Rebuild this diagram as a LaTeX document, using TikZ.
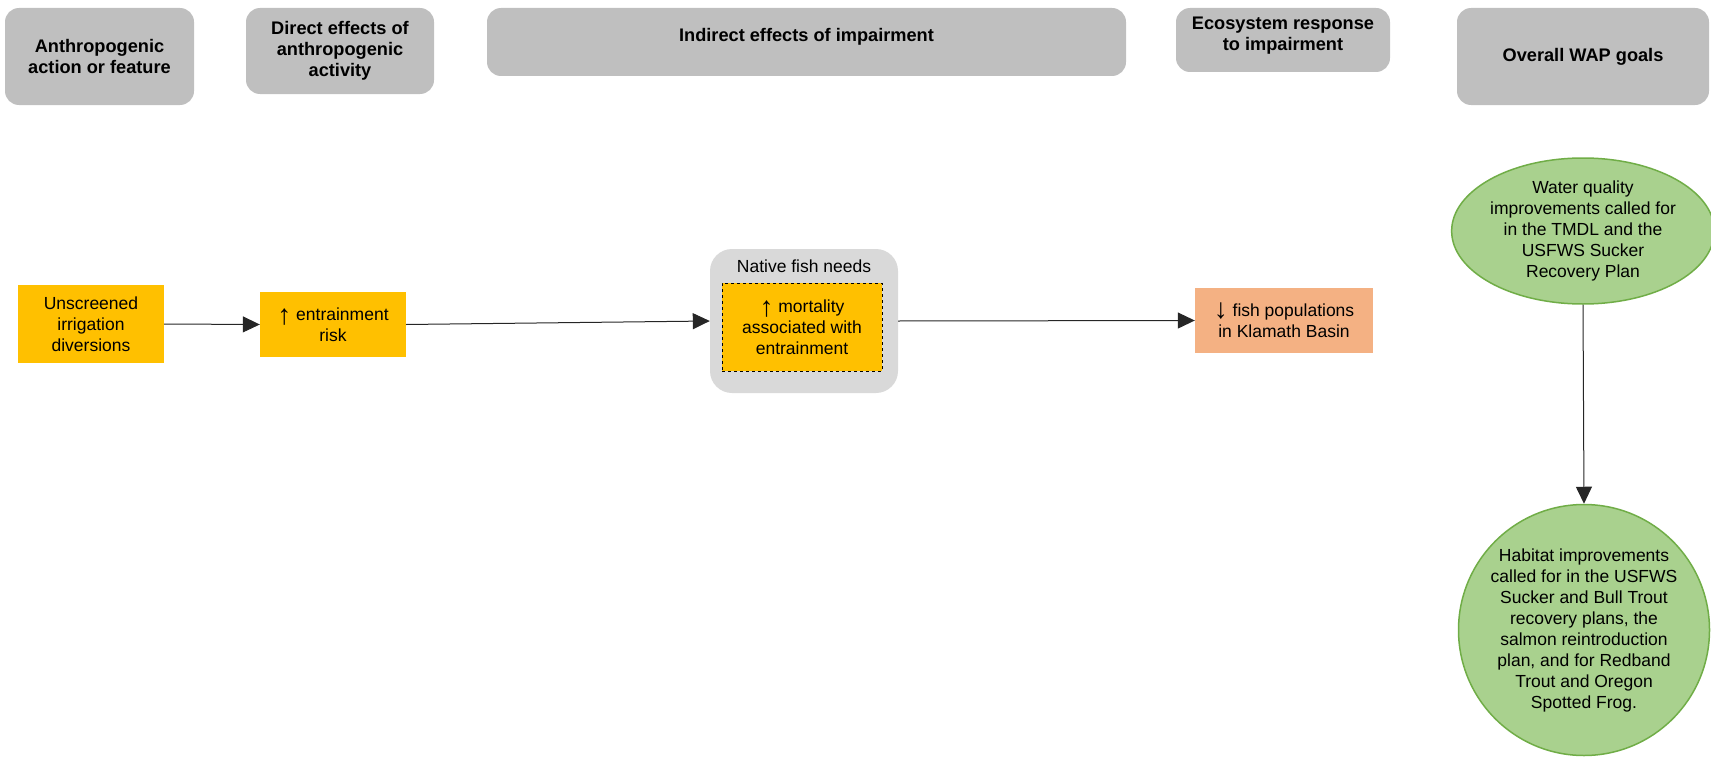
\documentclass[tikz,border=0pt]{standalone}
\usepackage{fontspec}
\setmainfont{Liberation Sans}
\usetikzlibrary{arrows.meta,shapes.geometric}
\definecolor{hdrgray}{HTML}{BFBFBF}
\definecolor{groupgray}{HTML}{D9D9D9}
\definecolor{amber}{HTML}{FFC000}
\definecolor{salmon}{HTML}{F4B183}
\definecolor{goalfill}{HTML}{A9D18E}
\definecolor{goalline}{HTML}{70AD47}
% tall thin trend arrows used in front of effect labels
\newcommand{\trendup}{\raisebox{-4pt}{\fontsize{28}{21}\selectfont ↑}}
\newcommand{\trenddown}{\raisebox{-2pt}{\fontsize{28}{21}\selectfont ↓}}
\tikzset{
  txt/.style={font=\fontsize{17.5}{21}\selectfont, align=center, inner sep=0pt},
  hdrfont/.style={font=\fontsize{18.2}{21}\selectfont\bfseries},
  header/.style={txt, hdrfont, fill=hdrgray, rounded corners=14pt},
  effect/.style={txt, fill=amber},
  response/.style={txt, fill=salmon},
  group/.style={txt, fill=groupgray, rounded corners=22pt},
  goal/.style={txt, fill=goalfill, draw=goalline, line width=1.5pt},
  link/.style={draw=black!85, line width=1pt, -{Triangle[length=17pt,width=16pt]}}
}
\begin{document}
\begin{tikzpicture}[x=1pt,y=-1pt]
\useasboundingbox (0,0) rectangle (1711,760);

% column headers
\node[header, minimum width=189pt, minimum height=97pt] (h1) at (99.5,56.5) {Anthropogenic\\action or feature};
\node[header, minimum width=188pt, minimum height=86pt] (h2) at (340,51) {Direct effects of\\anthropogenic\\activity};
\node[header, minimum width=639pt, minimum height=68pt] (h3) at (806.5,42) {};
\node[txt, hdrfont] (h3t) at (806.5,37) {Indirect effects of impairment};
\node[header, minimum width=214pt, minimum height=64pt] (h4) at (1283,40) {};
\node[txt, hdrfont] (h4t) at (1283,36) {Ecosystem response\\to impairment};
\node[header, minimum width=252pt, minimum height=97pt] (h5) at (1583,56.5) {Overall WAP goals};

% causal chain
\node[effect, minimum width=146pt, minimum height=78pt] (src) at (91,324) {Unscreened\\irrigation\\diversions};
\node[effect, minimum width=146pt, minimum height=65pt] (entr) at (333,324.5) {\trendup\ entrainment\\risk};
\node[group, minimum width=188pt, minimum height=144pt] (needs) at (804,321) {};
\node[txt] (needst) at (804,266) {Native fish needs};
\node[effect, draw=black, dashed, line width=0.9pt, minimum width=160pt, minimum height=88pt] (mort) at (802,327) {\trendup\ mortality\\associated with\\entrainment};
\node[response, minimum width=178pt, minimum height=65pt] (fish) at (1284,320.5) {\trenddown\ fish populations\\in Klamath Basin};

% goals
\node[goal, ellipse, minimum width=253pt, minimum height=146pt] (wq) at (1583,231) {Water quality\\improvements called for\\in the TMDL and the\\USFWS Sucker\\Recovery Plan};
\node[goal, circle, minimum size=251pt] (hab) at (1584,630) {Habitat improvements\\called for in the USFWS\\Sucker and Bull Trout\\recovery plans, the\\salmon reintroduction\\plan, and for Redband\\Trout and Oregon\\Spotted Frog.};

% connectors
\draw[link] (src.east) -- (entr.west);
\draw[link] (entr.east) -- (needs.west);
\draw[link] (needs.east) -- (fish.west);
\draw[link] (wq.south) -- (hab.north);
\end{tikzpicture}
\end{document}
